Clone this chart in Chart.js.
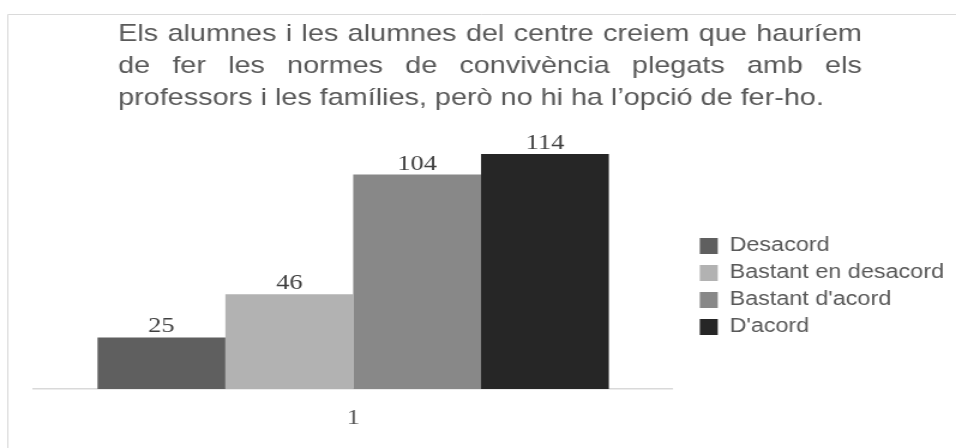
<!DOCTYPE html>
<html>
<head>
<meta charset="utf-8">
<title>Normes de convivència</title>
<script src="https://cdn.jsdelivr.net/npm/chart.js@4.4.1/dist/chart.umd.min.js"></script>
<style>
  html, body { margin: 0; padding: 0; background: #fff; overflow: hidden; }
  #chart { display: block; }
</style>
</head>
<body>
<!-- the source image is stretched ~1.2x horizontally, so the canvas is too -->
<canvas id="chart" width="797" height="448" style="width:956px;height:448px"></canvas>
<script>
const titleLines = [
    'Els alumnes i les alumnes del centre creiem que hauríem',
    'de fer les normes de convivència plegats amb els',
    'professors i les famílies, però no hi ha l’opció de fer-ho.'
];
const categories = ['1'];
const seriesNames = ['Desacord', 'Bastant en desacord', "Bastant d'acord", "D'acord"];
const seriesValues = [25, 46, 104, 114];
const yMax = 130;

const seriesColors = ['#5f5f5f', '#b2b2b2', '#888888', '#262626'];

// white page + the thin grey frame of the original picture
const framePlugin = {
    id: 'frame',
    beforeDraw(chart) {
        const ctx = chart.ctx;
        ctx.save();
        ctx.fillStyle = '#ffffff';
        ctx.fillRect(0, 0, chart.width, chart.height);
        ctx.strokeStyle = '#dadada';
        ctx.lineWidth = 1;
        ctx.beginPath();
        ctx.moveTo(6.5, chart.height);
        ctx.lineTo(6.5, 14.5);
        ctx.lineTo(chart.width, 14.5);
        ctx.stroke();
        ctx.restore();
    }
};

// title is justified in the source, Chart.js title can't do that
const titlePlugin = {
    id: 'justifiedTitle',
    afterDraw(chart) {
        const ctx = chart.ctx;
        const left = 98.5, width = 620;
        ctx.save();
        ctx.font = '24px "Liberation Sans", Arial, sans-serif';
        ctx.fillStyle = '#595959';
        ctx.textBaseline = 'alphabetic';
        titleLines.forEach((line, i) => {
            const y = 41 + i * 32;
            if (i === titleLines.length - 1) {
                ctx.fillText(line, left, y);
                return;
            }
            const words = line.split(' ');
            const wordsWidth = words.reduce((s, w) => s + ctx.measureText(w).width, 0);
            const gap = (width - wordsWidth) / (words.length - 1);
            let x = left;
            words.forEach(w => {
                ctx.fillText(w, x, y);
                x += ctx.measureText(w).width + gap;
            });
        });
        ctx.restore();
    }
};

// value above each bar
const valueLabels = {
    id: 'valueLabels',
    afterDatasetsDraw(chart) {
        const ctx = chart.ctx;
        ctx.save();
        ctx.font = '22px "Liberation Serif", "Times New Roman", serif';
        ctx.fillStyle = '#404040';
        ctx.textAlign = 'center';
        ctx.textBaseline = 'alphabetic';
        chart.data.datasets.forEach((ds, i) => {
            chart.getDatasetMeta(i).data.forEach((bar, j) => {
                ctx.fillText(ds.data[j], bar.x, bar.y - 5);
            });
        });
        ctx.restore();
    }
};

new Chart(document.getElementById('chart'), {
    type: 'bar',
    data: {
        labels: categories,
        datasets: seriesNames.map((name, i) => ({
            label: name,
            data: [seriesValues[i]],
            backgroundColor: seriesColors[i],
            borderWidth: 0
        }))
    },
    options: {
        responsive: false,
        animation: false,
        events: [],
        categoryPercentage: 0.8,
        barPercentage: 1.0,
        layout: {
            padding: { top: 121, left: 28, right: 0, bottom: 0.6 }
        },
        scales: {
            x: {
                grid: { display: false, drawTicks: false },
                border: { display: true, color: '#d9d9d9', width: 1.5 },
                ticks: {
                    padding: 16,
                    color: '#595959',
                    font: { family: '"Liberation Serif", "Times New Roman", serif', size: 22 }
                }
            },
            y: {
                // invisible, only keeps a gap between plot and legend
                position: 'right',
                min: 0,
                max: yMax,
                grid: { display: false },
                border: { display: false },
                ticks: { display: false },
                afterFit(scale) { scale.width = 15; }
            }
        },
        plugins: {
            title: { display: false },
            tooltip: { enabled: false },
            legend: {
                position: 'right',
                maxWidth: 240,
                title: { display: true, text: '', font: { size: 1 }, padding: { top: 3.4, bottom: 0 } },
                labels: {
                    boxWidth: 15,
                    boxHeight: 16,
                    padding: 7.5,
                    color: '#595959',
                    font: { family: '"Liberation Sans", Arial, sans-serif', size: 19.5 }
                }
            }
        }
    },
    plugins: [framePlugin, titlePlugin, valueLabels]
});
</script>
</body>
</html>
